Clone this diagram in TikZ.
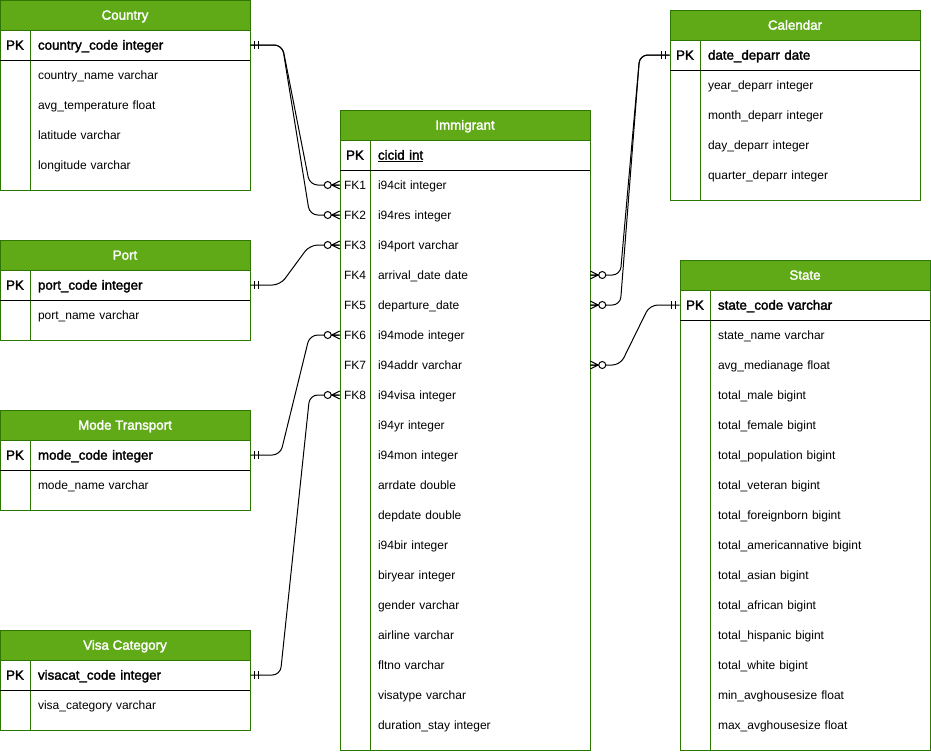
\documentclass[tikz,border=0pt]{standalone}
\usepackage{fontspec}
\setmainfont{Liberation Sans}[BoldFont={Liberation Sans}, BoldFeatures={FakeBold=2}]
\usepackage{xcolor}
\usepackage{tikz}
\usetikzlibrary{positioning,calc}

\definecolor{ergreen}{HTML}{60A917}
\definecolor{ergreendark}{HTML}{2D7600}

\tikzset{
    hdr/.style={draw=ergreendark, fill=ergreen, text=white, font=\bfseries,
        minimum width=187.5pt, minimum height=22.5pt, inner sep=0pt, line width=0.75pt,
        text height=7pt, text depth=0pt},
    keycell/.style={minimum width=22.5pt, minimum height=22.5pt, inner sep=0pt,
        text height=7pt, text depth=0pt},
    field/.style={minimum width=165pt, minimum height=22.5pt, text width=153pt,
        inner xsep=6pt, inner ysep=0pt, align=left, text height=7pt, text depth=0pt},
    tbl/.style={draw=ergreendark, line width=0.75pt},
    rel/.style={draw=black, line width=0.75pt},
    mandone/.pic={\draw[rel] (4,-4) -- (4,4) (8,-4) -- (8,4);},
    zeromany/.pic={\draw[rel] (0,-4) -- (8,0) -- (0,4) (0,0) -- (8,0);
        \draw[rel, fill=white] (12,0) circle (3.5);}
}

\begin{document}
\begin{tikzpicture}[x=0.75pt, y=-0.75pt, font=\fontsize{9}{11}\selectfont]
    \useasboundingbox (0,0) rectangle (931,751);

    % country
    \node[hdr] (country) at (125,15) {Country};
    \draw[tbl] (0,0) rectangle (250,190);
    \draw[tbl] (30,30) -- (30,190);
    \draw (0,60) -- (250,60);
    \node[keycell, font=\bfseries] (country-k0) at (15,45) {PK};
    \node[field, font=\bfseries] (country-f0) at (140,45) {country\_code integer};
    \node[field] (country-f1) at (140,75) {country\_name varchar};
    \node[field] (country-f2) at (140,105) {avg\_temperature float};
    \node[field] (country-f3) at (140,135) {latitude varchar};
    \node[field] (country-f4) at (140,165) {longitude varchar};

    % port
    \node[hdr] (port) at (125,255) {Port};
    \draw[tbl] (0,240) rectangle (250,340);
    \draw[tbl] (30,270) -- (30,340);
    \draw (0,300) -- (250,300);
    \node[keycell, font=\bfseries] (port-k0) at (15,285) {PK};
    \node[field, font=\bfseries] (port-f0) at (140,285) {port\_code integer};
    \node[field] (port-f1) at (140,315) {port\_name varchar};

    % mode transport
    \node[hdr] (mode) at (125,425) {Mode Transport};
    \draw[tbl] (0,410) rectangle (250,510);
    \draw[tbl] (30,440) -- (30,510);
    \draw (0,470) -- (250,470);
    \node[keycell, font=\bfseries] (mode-k0) at (15,455) {PK};
    \node[field, font=\bfseries] (mode-f0) at (140,455) {mode\_code integer};
    \node[field] (mode-f1) at (140,485) {mode\_name varchar};

    % visa category
    \node[hdr] (visa) at (125,645) {Visa Category};
    \draw[tbl] (0,630) rectangle (250,730);
    \draw[tbl] (30,660) -- (30,730);
    \draw (0,690) -- (250,690);
    \node[keycell, font=\bfseries] (visa-k0) at (15,675) {PK};
    \node[field, font=\bfseries] (visa-f0) at (140,675) {visacat\_code integer};
    \node[field] (visa-f1) at (140,705) {visa\_category varchar};

    % immigrant
    \node[hdr] (imm) at (465,125) {Immigrant};
    \draw[tbl] (340,110) rectangle (590,750);
    \draw[tbl] (370,140) -- (370,750);
    \draw (340,170) -- (590,170);
    \node[keycell, font=\bfseries] (imm-k0) at (355,155) {PK};
    \node[field, font=\bfseries] (imm-f0) at (480,155) {\underline{cicid int}};
    \node[keycell] (imm-k1) at (355,185) {FK1};
    \node[field] (imm-f1) at (480,185) {i94cit integer};
    \node[keycell] (imm-k2) at (355,215) {FK2};
    \node[field] (imm-f2) at (480,215) {i94res integer};
    \node[keycell] (imm-k3) at (355,245) {FK3};
    \node[field] (imm-f3) at (480,245) {i94port varchar};
    \node[keycell] (imm-k4) at (355,275) {FK4};
    \node[field] (imm-f4) at (480,275) {arrival\_date date};
    \node[keycell] (imm-k5) at (355,305) {FK5};
    \node[field] (imm-f5) at (480,305) {departure\_date};
    \node[keycell] (imm-k6) at (355,335) {FK6};
    \node[field] (imm-f6) at (480,335) {i94mode integer};
    \node[keycell] (imm-k7) at (355,365) {FK7};
    \node[field] (imm-f7) at (480,365) {i94addr varchar};
    \node[keycell] (imm-k8) at (355,395) {FK8};
    \node[field] (imm-f8) at (480,395) {i94visa integer};
    \node[field] (imm-f9) at (480,425) {i94yr integer};
    \node[field] (imm-f10) at (480,455) {i94mon integer};
    \node[field] (imm-f11) at (480,485) {arrdate double};
    \node[field] (imm-f12) at (480,515) {depdate double};
    \node[field] (imm-f13) at (480,545) {i94bir integer};
    \node[field] (imm-f14) at (480,575) {biryear integer};
    \node[field] (imm-f15) at (480,605) {gender varchar};
    \node[field] (imm-f16) at (480,635) {airline varchar};
    \node[field] (imm-f17) at (480,665) {fltno varchar};
    \node[field] (imm-f18) at (480,695) {visatype varchar};
    \node[field] (imm-f19) at (480,725) {duration\_stay integer};

    % calendar
    \node[hdr] (cal) at (795,25) {Calendar};
    \draw[tbl] (670,10) rectangle (920,200);
    \draw[tbl] (700,40) -- (700,200);
    \draw (670,70) -- (920,70);
    \node[keycell, font=\bfseries] (cal-k0) at (685,55) {PK};
    \node[field, font=\bfseries] (cal-f0) at (810,55) {date\_deparr date};
    \node[field] (cal-f1) at (810,85) {year\_deparr integer};
    \node[field] (cal-f2) at (810,115) {month\_deparr integer};
    \node[field] (cal-f3) at (810,145) {day\_deparr integer};
    \node[field] (cal-f4) at (810,175) {quarter\_deparr integer};

    % state
    \node[hdr] (state) at (805,275) {State};
    \draw[tbl] (680,260) rectangle (930,750);
    \draw[tbl] (710,290) -- (710,750);
    \draw (680,320) -- (930,320);
    \node[keycell, font=\bfseries] (state-k0) at (695,305) {PK};
    \node[field, font=\bfseries] (state-f0) at (820,305) {state\_code varchar};
    \node[field] (state-f1) at (820,335) {state\_name varchar};
    \node[field] (state-f2) at (820,365) {avg\_medianage float};
    \node[field] (state-f3) at (820,395) {total\_male bigint};
    \node[field] (state-f4) at (820,425) {total\_female bigint};
    \node[field] (state-f5) at (820,455) {total\_population bigint};
    \node[field] (state-f6) at (820,485) {total\_veteran bigint};
    \node[field] (state-f7) at (820,515) {total\_foreignborn bigint};
    \node[field] (state-f8) at (820,545) {total\_americannative bigint};
    \node[field] (state-f9) at (820,575) {total\_asian bigint};
    \node[field] (state-f10) at (820,605) {total\_african bigint};
    \node[field] (state-f11) at (820,635) {total\_hispanic bigint};
    \node[field] (state-f12) at (820,665) {total\_white bigint};
    \node[field] (state-f13) at (820,695) {min\_avghousesize float};
    \node[field] (state-f14) at (820,725) {max\_avghousesize float};

    % relations
    \draw[rel, rounded corners=6pt] (country-f0.east) -- ++(32,0) -- ($(imm-k1.west)+(-30,0)$) -- (imm-k1.west);
    \draw[rel, rounded corners=6pt] (country-f0.east) -- ++(32,0) -- ($(imm-k2.west)+(-30,0)$) -- (imm-k2.west);
    \draw[rel, rounded corners=6pt] (port-f0.east) -- ++(30,0) -- ($(imm-k3.west)+(-30,0)$) -- (imm-k3.west);
    \draw[rel, rounded corners=6pt] (mode-f0.east) -- ++(30,0) -- ($(imm-k6.west)+(-30,0)$) -- (imm-k6.west);
    \draw[rel, rounded corners=6pt] (visa-f0.east) -- ++(30,0) -- ($(imm-k8.west)+(-30,0)$) -- (imm-k8.west);
    \draw[rel, rounded corners=6pt] (imm-f4.east) -- ++(30,0) -- ($(cal-k0.west)+(-30,0)$) -- (cal-k0.west);
    \draw[rel, rounded corners=6pt] (imm-f5.east) -- ++(30,0) -- ($(cal-k0.west)+(-30,0)$) -- (cal-k0.west);
    \draw[rel, rounded corners=6pt] (imm-f7.east) -- ++(30,0) -- ($(state-k0.west)+(-30,0)$) -- (state-k0.west);

    % ends
    \pic at (country-f0.east) {mandone};
    \pic at (port-f0.east) {mandone};
    \pic at (mode-f0.east) {mandone};
    \pic at (visa-f0.east) {mandone};
    \pic[xscale=-1] at (cal-k0.west) {mandone};
    \pic[xscale=-1] at (state-k0.west) {mandone};
    \pic[xscale=-1] at (imm-k1.west) {zeromany};
    \pic[xscale=-1] at (imm-k2.west) {zeromany};
    \pic[xscale=-1] at (imm-k3.west) {zeromany};
    \pic[xscale=-1] at (imm-k6.west) {zeromany};
    \pic[xscale=-1] at (imm-k8.west) {zeromany};
    \pic at (imm-f4.east) {zeromany};
    \pic at (imm-f5.east) {zeromany};
    \pic at (imm-f7.east) {zeromany};
\end{tikzpicture}
\end{document}
